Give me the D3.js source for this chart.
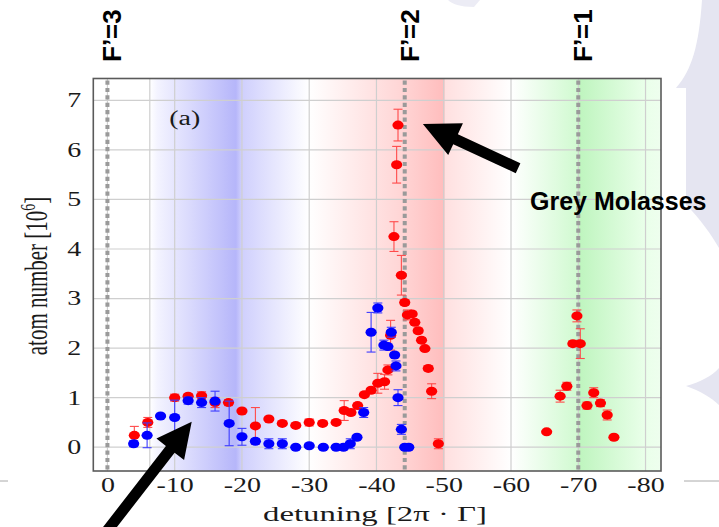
<!DOCTYPE html>
<html>
<head>
<meta charset="utf-8">
<script src="https://cdn.jsdelivr.net/npm/d3@7/dist/d3.min.js"></script>
<style>
  body { margin: 0; background: #fff; }
  svg { display: block; }
</style>
</head>
<body>
<div id="chart"></div>
<script>
// red series (with molasses)
const redX = [-4, -6, -10, -12, -14, -16, -18, -20, -22, -24, -26, -28, -30, -32, -34,
    -35.2, -36.2, -37.2, -38.2, -39.2, -40.2, -41.2, -41.7, -42.1, -42.6, -43.0, -43.2,
    -43.7, -44.2, -44.6, -45.3, -45.7, -46.2, -46.7, -47.2, -47.7, -48.2, -49.2,
    -65.3, -67.3, -68.3, -69.2, -69.8, -70.3, -71.3, -72.3, -73.3, -74.3, -75.3];
const redY = [0.24, 0.50, 1.00, 1.03, 1.04, 0.90, 0.90, 0.73, 0.43, 0.57, 0.48, 0.44, 0.50, 0.48, 0.50,
    0.74, 0.70, 0.84, 1.06, 1.15, 1.29, 1.32, 1.56, 2.26, 4.25, 5.70, 6.50,
    3.47, 2.92, 2.67, 2.69, 2.52, 2.35, 2.16, 1.99, 1.59, 1.13, 0.07,
    0.31, 1.03, 1.23, 2.09, 2.65, 2.09, 0.84, 1.10, 0.89, 0.65, 0.20];
const redErr = [0.18, 0.10, 0.07, 0.05, 0.08, 0.10, 0.06, 0.03, 0.37, 0.03, 0.03, 0.03, 0.07, 0.03, 0.03,
    0.20, 0.05, 0.05, 0.03, 0.04, 0.20, 0.15, 0.10, 0.30, 0.30, 0.37, 0.32,
    0.40, 0.05, 0.10, 0.05, 0.05, 0.05, 0.05, 0.03, 0.05, 0.15, 0.10,
    0.02, 0.12, 0.08, 0.05, 0.12, 0.30, 0.07, 0.10, 0.07, 0.10, 0.02];

// blue series
const blueX = [-3.9, -5.9, -7.9, -10, -12, -14, -16, -18.1, -20, -22, -24, -26, -28, -30, -32.1, -34,
    -35.1, -36.1, -37.1, -38.1, -39.2, -40.2, -41.1, -41.7, -42.2, -42.7, -42.9, -43.2, -43.7, -44.2, -44.8];
const blueY = [0.07, 0.24, 0.63, 0.60, 0.94, 0.90, 0.93, 0.48, 0.21, 0.12, 0.07, 0.07, 0.00, 0.03, 0.00, 0.00,
    0.00, 0.07, 0.20, 0.70, 2.32, 2.81, 2.06, 2.03, 2.32, 1.86, 1.64, 1.00, 0.36, 0.00, 0.00];
const blueErr = [0.06, 0.25, 0.03, 0.35, 0.07, 0.10, 0.20, 0.45, 0.17, 0.05, 0.10, 0.10, 0.02, 0.02, 0.02, 0.02,
    0.05, 0.10, 0.03, 0.10, 0.40, 0.10, 0.10, 0.05, 0.10, 0.05, 0.10, 0.16, 0.10, 0.02, 0.02];

const xTicks = [0, -10, -20, -30, -40, -50, -60, -70, -80];
const yTicks = [0, 1, 2, 3, 4, 5, 6, 7];
const resonances = [0, -44.2, -70];
const resonanceLabels = ["F’=3", "F’=2", "F’=1"];
const bandEdges = [[-6.3, -30], [-30, -60], [-60, -82.3]];

const W = 719, H = 527;
const margin = { left: 93.3, right: 661, top: 78.5, bottom: 471 };

const svg = d3.select("#chart").append("svg")
    .attr("width", W).attr("height", H);

// slide decoration on the right
svg.append("path")
    .attr("d", "M702,0 C699,45 692,70 676,88 L686,88 L686,205 C700,218 712,236 719,248 L719,0 Z")
    .attr("fill", "#e5e5f1");
svg.append("path")
    .attr("d", "M686,386 C700,382 712,376 719,368 L719,405 C712,398 700,391 686,386 Z")
    .attr("fill", "#e5e5f1");
svg.append("path")
    .attr("d", "M448,0 C452,4 460,7 474,7 L480,0 Z")
    .attr("fill", "#ececf5");
svg.append("line").attr("x1", 0).attr("x2", 8).attr("y1", 481).attr("y2", 481)
    .attr("stroke", "#aaa").attr("stroke-width", 1);
svg.append("line").attr("x1", 684).attr("x2", 719).attr("y1", 481).attr("y2", 481)
    .attr("stroke", "#aaa").attr("stroke-width", 1);

const x = d3.scaleLinear().domain([2.1, -82.3]).range([margin.left, margin.right]);
const y = d3.scaleLinear().domain([-0.48, 7.44]).range([margin.bottom, margin.top]);
const plotW = margin.right - margin.left, plotH = margin.bottom - margin.top;

// gradients for the shaded bands
const defs = svg.append("defs");
const bandStops = [
    [[0, "#ffffff"], [0.05, "#f3f3ff"], [0.54, "#b6b6fa"], [0.575, "#cfcffd"], [1, "#ffffff"]],
    [[0, "#ffffff"], [0.47, "#ffd4d4"], [0.667, "#ffbdbd"], [0.675, "#ffe0e0"], [1, "#ffffff"]],
    [[0, "#ffffff"], [0.445, "#d0fad0"], [0.46, "#bff5bf"], [0.897, "#eaffea"], [1, "#eefeee"]]
];
bandStops.forEach((stops, i) => {
    const g = defs.append("linearGradient").attr("id", "band" + i)
        .attr("x1", "0%").attr("x2", "100%").attr("y1", "0%").attr("y2", "0%");
    stops.forEach(s => g.append("stop").attr("offset", s[0]).attr("stop-color", s[1]));
});

svg.append("rect")
    .attr("x", margin.left).attr("y", margin.top)
    .attr("width", plotW).attr("height", plotH)
    .attr("fill", "#fff");

svg.selectAll(".band")
    .data(bandEdges)
    .enter()
    .append("rect")
    .attr("class", "band")
    .attr("x", d => x(d[0]))
    .attr("y", margin.top)
    .attr("width", d => x(d[1]) - x(d[0]))
    .attr("height", plotH)
    .attr("fill", (d, i) => `url(#band${i})`);

// grid
const gridColor = "#cfcfcf";
svg.append("g")
    .selectAll("line")
    .data(yTicks)
    .enter()
    .append("line")
    .attr("x1", margin.left).attr("x2", margin.right)
    .attr("y1", d => y(d)).attr("y2", d => y(d))
    .attr("stroke", gridColor).attr("stroke-width", 1.2);

svg.append("g")
    .selectAll("line")
    .data(xTicks.concat([bandEdges[0][0]]))
    .enter()
    .append("line")
    .attr("x1", d => x(d)).attr("x2", d => x(d))
    .attr("y1", margin.top).attr("y2", margin.bottom)
    .attr("stroke", gridColor).attr("stroke-width", 1.2);

// resonance lines
svg.append("g")
    .selectAll("line")
    .data(resonances)
    .enter()
    .append("line")
    .attr("x1", d => x(d)).attr("x2", d => x(d))
    .attr("y1", margin.top + 2).attr("y2", margin.bottom)
    .attr("stroke", "#9a9a9a")
    .attr("stroke-width", 4)
    .attr("stroke-dasharray", "4.2,3.2");

function drawSeries(xs, ys, es, dot, bar) {
    const data = xs.map((d, i) => ({ x: d, y: ys[i], e: es[i] }));
    const g = svg.append("g");
    const eb = g.selectAll(".err")
        .data(data)
        .enter()
        .append("g")
        .attr("stroke", bar)
        .attr("stroke-width", 1.1);
    eb.append("line")
        .attr("x1", d => x(d.x)).attr("x2", d => x(d.x))
        .attr("y1", d => y(d.y - d.e)).attr("y2", d => y(d.y + d.e));
    eb.append("line")
        .attr("x1", d => x(d.x) - 4.5).attr("x2", d => x(d.x) + 4.5)
        .attr("y1", d => y(d.y + d.e)).attr("y2", d => y(d.y + d.e));
    eb.append("line")
        .attr("x1", d => x(d.x) - 4.5).attr("x2", d => x(d.x) + 4.5)
        .attr("y1", d => y(d.y - d.e)).attr("y2", d => y(d.y - d.e));
    g.selectAll(".dot")
        .data(data)
        .enter()
        .append("ellipse")
        .attr("cx", d => x(d.x))
        .attr("cy", d => y(d.y))
        .attr("rx", 5.6).attr("ry", 4.5)
        .attr("fill", dot);
}

drawSeries(redX, redY, redErr, "#ff0000", "#ff4a4a");
drawSeries(blueX, blueY, blueErr, "#0000ff", "#3c3cff");

// frame
svg.append("rect")
    .attr("x", margin.left).attr("y", margin.top)
    .attr("width", plotW).attr("height", plotH)
    .attr("fill", "none")
    .attr("stroke", "#5a5a5a")
    .attr("stroke-width", 1.6);

const serif = "'Liberation Serif', 'Times New Roman', serif";
const stretch = 1.4;

const xAxis = svg.append("g")
    .attr("transform", `translate(0,${margin.bottom})`)
    .call(d3.axisBottom(x).tickValues(xTicks).tickSize(0).tickPadding(7).tickFormat(d => String(d)));
xAxis.select(".domain").remove();
xAxis.selectAll("text")
    .attr("font-family", serif)
    .attr("font-size", "20px")
    .attr("fill", "#1a1a1a")
    .attr("transform", `scale(${stretch},1)`);

const yAxis = svg.append("g")
    .attr("transform", `translate(${margin.left},0)`)
    .call(d3.axisLeft(y).tickValues(yTicks).tickSize(0).tickFormat(d => String(d)));
yAxis.select(".domain").remove();
yAxis.selectAll("text")
    .attr("font-family", serif)
    .attr("font-size", "20px")
    .attr("fill", "#1a1a1a")
    .attr("x", -12 / stretch)
    .attr("transform", `scale(${stretch},1)`);

// axis titles
svg.append("text")
    .attr("x", 375).attr("y", 521)
    .attr("text-anchor", "middle")
    .attr("font-family", serif)
    .attr("font-size", "22px")
    .attr("fill", "#1a1a1a")
    .attr("textLength", 224)
    .attr("lengthAdjust", "spacingAndGlyphs")
    .text("detuning [2π · Γ]");

const yl = svg.append("text")
    .attr("transform", `translate(47,276) rotate(-90) scale(1,1.5)`)
    .attr("text-anchor", "middle")
    .attr("font-family", serif)
    .attr("font-size", "21px")
    .attr("fill", "#1a1a1a");
yl.append("tspan").text("atom number [10");
yl.append("tspan").attr("font-size", "14px").attr("dy", -8).text("6");
yl.append("tspan").attr("dy", 8).text("]");

svg.append("text")
    .attr("transform", `translate(${x(-11.5)},${y(6.5)}) scale(${stretch},1)`)
    .attr("text-anchor", "middle")
    .attr("font-family", serif)
    .attr("font-size", "20px")
    .attr("fill", "#1a1a1a")
    .text("(a)");

// resonance labels above the frame
svg.selectAll(".res-label")
    .data(resonances)
    .enter()
    .append("text")
    .attr("class", "res-label")
    .attr("transform", d => `translate(${x(d) + 14},62) rotate(-90)`)
    .attr("font-family", "'Liberation Sans', Arial, sans-serif")
    .attr("font-weight", "bold")
    .attr("font-size", "26px")
    .attr("fill", "#000")
    .text((d, i) => resonanceLabels[i]);

svg.append("text")
    .attr("x", 530).attr("y", 210)
    .attr("font-family", "'Liberation Sans', Arial, sans-serif")
    .attr("font-weight", "bold")
    .attr("font-size", "25px")
    .attr("fill", "#000")
    .text("Grey Molasses");

// arrows
function arrow(tail, tip, w, headLen, headHalf) {
    const x0 = x(tail[0]), y0 = y(tail[1]), x1 = x(tip[0]), y1 = y(tip[1]);
    const len = Math.hypot(x1 - x0, y1 - y0);
    const ux = (x1 - x0) / len, uy = (y1 - y0) / len;
    const nx = -uy, ny = ux;
    const bx = x1 - ux * headLen, by = y1 - uy * headLen;
    const pts = [
        [x0 + nx * w / 2, y0 + ny * w / 2],
        [bx + nx * w / 2, by + ny * w / 2],
        [bx + nx * headHalf, by + ny * headHalf],
        [x1, y1],
        [bx - nx * headHalf, by - ny * headHalf],
        [bx - nx * w / 2, by - ny * w / 2],
        [x0 - nx * w / 2, y0 - ny * w / 2]
    ];
    svg.append("path")
        .attr("d", "M" + pts.map(p => p.join(",")).join("L") + "Z")
        .attr("fill", "#000");
}
arrow([-61.05, 5.63], [-46.9, 6.52], 11, 36, 17.5);
arrow([1.1, -1.87], [-12.53, 0.515], 11, 35, 17.5);
</script>
</body>
</html>
